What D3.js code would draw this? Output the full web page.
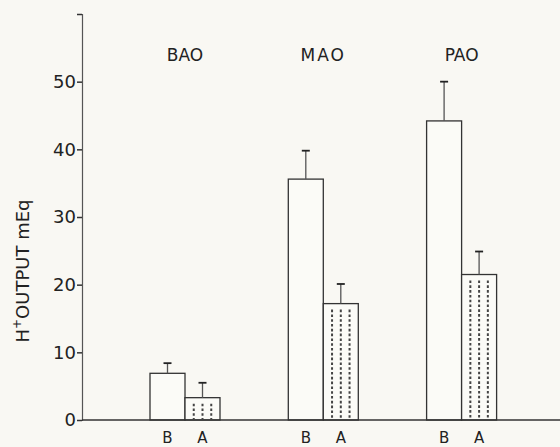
<!DOCTYPE html>
<html>
<head>
<meta charset="utf-8">
<script src="https://cdn.jsdelivr.net/npm/d3@7"></script>
<style>
  html, body { margin: 0; padding: 0; background: #f9f8f3; }
  svg { display: block; }
  text { font-family: "DejaVu Sans", sans-serif; fill: #222; }
</style>
</head>
<body>
<svg id="chart" width="560" height="447"></svg>
<script>
// Data
const groups = ["BAO", "MAO", "PAO"];
const conditions = ["B", "A"];
const meanB = [6.9, 35.6, 44.2];
const meanA = [3.3, 17.2, 21.5];
const errB = [8.4, 39.8, 50.0];
const errA = [5.5, 20.1, 24.9];
const yTicks = [0, 10, 20, 30, 40, 50, 60];
const yTickLabels = ["0", "10", "20", "30", "40", "50", ""];

const data = [];
groups.forEach((g, i) => {
  data.push({ group: g, cond: "B", value: meanB[i], err: errB[i] });
  data.push({ group: g, cond: "A", value: meanA[i], err: errA[i] });
});

const svg = d3.select("#chart");
const axisX = 82;

const y = d3.scaleLinear().domain([0, 60]).range([420, 14]);
const xGroup = d3.scaleBand().domain(groups).range([115.85, 530.75]).padding(0);
const barW = 35;
const xCond = d3.scaleBand().domain(conditions).range([-barW, barW]).padding(0);

const stroke = "#333";

// Y axis
const yAxis = d3.axisLeft(y)
  .tickValues(yTicks)
  .tickFormat((d, i) => yTickLabels[i])
  .tickSize(5)
  .tickPadding(1);
const gY = svg.append("g").attr("transform", `translate(${axisX},0)`).call(yAxis);
gY.select(".domain").attr("stroke", "#555").attr("stroke-width", 1.2);
gY.selectAll(".tick line").attr("stroke", "#333").attr("stroke-width", 1.5);
gY.selectAll(".tick text").style("font-size", "18px").attr("fill", "#222")
  .style("font-family", "DejaVu Sans, sans-serif");

// Y axis label
svg.append("text")
  .attr("transform", `translate(29,${271}) rotate(-90)`)
  .attr("text-anchor", "middle")
  .style("font-size", "18px")
  .html('H<tspan dy="-8" style="font-size:12px">+</tspan><tspan dy="8">OUTPUT mEq</tspan>');

// Bars
const bars = svg.append("g");
data.forEach(d => {
  const x0 = xGroup(d.group) + xGroup.bandwidth() / 2 + xCond(d.cond);
  const w = xCond.bandwidth();
  bars.append("rect")
    .attr("x", x0).attr("y", y(d.value))
    .attr("width", w).attr("height", y(0) - y(d.value))
    .attr("fill", "#fbfbf7").attr("stroke", stroke).attr("stroke-width", 1.3);
  if (d.cond === "A") {
    [0.25, 0.5, 0.75].forEach(f => {
      bars.append("line")
        .attr("x1", x0 + w * f).attr("x2", x0 + w * f)
        .attr("y1", y(d.value) + 6).attr("y2", y(0) - 1)
        .attr("stroke", "#444").attr("stroke-width", 2)
        .attr("stroke-dasharray", "2.6,2.2");
    });
  }
  const cx = x0 + w / 2;
  bars.append("line")
    .attr("x1", cx).attr("x2", cx)
    .attr("y1", y(d.value)).attr("y2", y(d.err))
    .attr("stroke", "#555").attr("stroke-width", 1.3);
  bars.append("line")
    .attr("x1", cx - 4).attr("x2", cx + 4)
    .attr("y1", y(d.err)).attr("y2", y(d.err))
    .attr("stroke", "#222").attr("stroke-width", 1.8);
  // condition labels
  svg.append("text")
    .attr("x", cx).attr("y", 443)
    .attr("text-anchor", "middle")
    .style("font-size", "15px")
    .text(d.cond);
});

// Baseline
svg.append("line")
  .attr("x1", axisX).attr("x2", 560)
  .attr("y1", y(0)).attr("y2", y(0))
  .attr("stroke", "#333").attr("stroke-width", 1.4);

// Group labels
svg.selectAll(".glabel").data(groups).enter().append("text")
  .attr("x", g => xGroup(g) + xGroup.bandwidth() / 2)
  .attr("y", 61)
  .attr("text-anchor", "middle")
  .style("font-size", "17px")
  .style("letter-spacing", g => g === "MAO" ? "2px" : "0px")
  .text(g => g);
</script>
</body>
</html>
